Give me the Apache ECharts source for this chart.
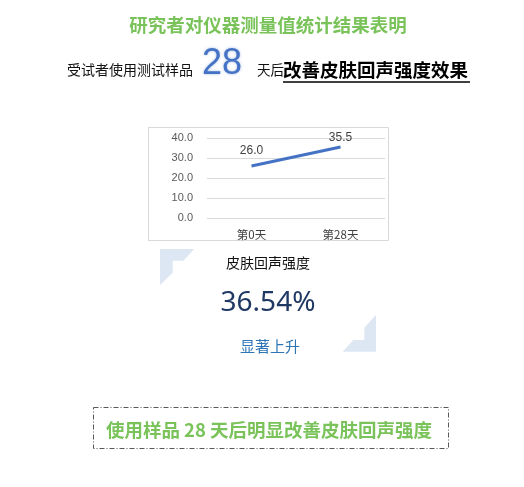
<!DOCTYPE html>
<html>
<head>
<meta charset="utf-8">
<script src="https://cdn.jsdelivr.net/npm/echarts@6/dist/echarts.min.js"></script>
<style>
html,body{margin:0;padding:0;background:#fff;}
#main{width:524px;height:487px;}
</style>
</head>
<body>
<div id="main"></div>
<script>
const categories = ['第0天', '第28天'];
const values = [26.0, 35.5];
const yMin = 0, yMax = 40, yStep = 10;
const titleText = '研究者对仪器测量值统计结果表明';
const line2a = '受试者使用测试样品';
const line2Days = '28';
const line2b = '天后';
const line2c = '改善皮肤回声强度效果';
const metricName = '皮肤回声强度';
const metricValue = '36.54%';
const metricNote = '显著上升';
const conclusion = '使用样品 28 天后明显改善皮肤回声强度';

const CJK = '"Noto Sans CJK SC", "Noto Sans", sans-serif';
const green = '#7ac35a';
const deco = '#dde7f3';

const chart = echarts.init(document.getElementById('main'), null, {renderer: 'canvas'});
const labelDist = [9, 3];

chart.setOption({
  animation: false,
  backgroundColor: '#ffffff',
  grid: {left: 207, right: 139, top: 138, bottom: 269},
  xAxis: {
    type: 'category',
    data: categories,
    boundaryGap: true,
    axisLine: {show: false},
    axisTick: {show: false},
    axisLabel: {color: '#404040', fontSize: 11.5, margin: 11, fontFamily: CJK}
  },
  yAxis: {
    type: 'value',
    min: yMin, max: yMax, interval: yStep,
    axisLine: {show: false},
    axisTick: {show: false},
    splitLine: {lineStyle: {color: '#d9d9d9', width: 1}},
    axisLabel: {color: '#595959', fontSize: 11, margin: 14, fontFamily: 'Liberation Sans, Arial, sans-serif',
      formatter: v => v.toFixed(1)}
  },
  series: [{
    type: 'line',
    data: values.map((v, i) => ({value: v, label: {show: true, distance: labelDist[i]}})),
    symbol: 'circle',
    symbolSize: 0,
    showSymbol: true,
    itemStyle: {color: '#4472c4'},
    lineStyle: {color: '#4472c4', width: 3},
    label: {show: true, position: 'top', color: '#404040', fontSize: 12,
      fontFamily: 'Liberation Sans, Arial, sans-serif', formatter: p => p.value.toFixed(1)}
  }],
  graphic: [
    {type: 'rect', silent: true, z: -1, shape: {x: 148.5, y: 127.5, width: 240, height: 113},
      style: {fill: 'none', stroke: '#d9d9d9', lineWidth: 1}},
    {type: 'text', style: {text: titleText, x: 268, y: 25, textAlign: 'center', textVerticalAlign: 'middle',
      font: 'bold 18.5px ' + CJK, fill: green}},
    {type: 'text', style: {text: line2a, x: 67, y: 70, textAlign: 'left', textVerticalAlign: 'middle',
      font: '14px ' + CJK, fill: '#111'}},
    {type: 'text', style: {text: line2Days, x: 202, y: 64, textAlign: 'left', textVerticalAlign: 'middle',
      font: '36px "Liberation Sans", Arial, sans-serif', fill: '#4472c4',
      textShadowColor: 'rgba(68,114,196,0.45)', textShadowBlur: 3}},
    {type: 'text', style: {text: line2b, x: 257, y: 70, textAlign: 'left', textVerticalAlign: 'middle',
      font: '13.5px ' + CJK, fill: '#111'}},
    {type: 'text', style: {text: line2c, x: 283, y: 70, textAlign: 'left', textVerticalAlign: 'middle',
      font: 'bold 18.5px ' + CJK, fill: '#000'}},
    {type: 'line', shape: {x1: 283, y1: 82, x2: 470, y2: 82}, style: {stroke: '#000', lineWidth: 1.5}},
    {type: 'polygon', shape: {points: [[160,249],[194.3,249],[183.3,260.7],[172.7,260.7],[172.7,272.7],[160,285]]},
      style: {fill: deco}},
    {type: 'polygon', shape: {points: [[376,315],[376,351.7],[342.7,351.7],[353.3,340],[364.3,340],[364.3,327.7]]},
      style: {fill: deco}},
    {type: 'text', style: {text: metricName, x: 268, y: 263, textAlign: 'center', textVerticalAlign: 'middle',
      font: '14px ' + CJK, fill: '#111'}},
    {type: 'text', style: {text: metricValue, x: 268, y: 303, textAlign: 'center', textVerticalAlign: 'middle',
      font: '28px "Noto Sans", "Open Sans", sans-serif', fill: '#1f3864'}},
    {type: 'text', style: {text: metricNote, x: 270, y: 346, textAlign: 'center', textVerticalAlign: 'middle',
      font: '15px ' + CJK, fill: '#2e75b6'}},
    {type: 'rect', shape: {x: 93.5, y: 407.5, width: 355, height: 41},
      style: {fill: 'none', stroke: '#595959', lineWidth: 1, lineDash: [5, 2, 1, 2]}},
    {type: 'text', style: {text: conclusion, x: 269, y: 430, textAlign: 'center', textVerticalAlign: 'middle',
      font: 'bold 18.5px ' + CJK, fill: green}}
  ]
});
</script>
</body>
</html>
